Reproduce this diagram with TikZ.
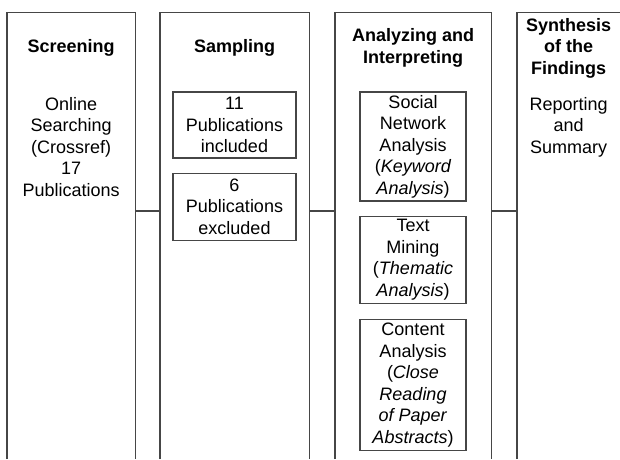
\documentclass[tikz,border=0pt]{standalone}
\usepackage{fontspec}
\setmainfont{Liberation Sans}
\usetikzlibrary{positioning}
\definecolor{rule}{RGB}{70,70,70}

\begin{document}
\begin{tikzpicture}[
  x=1pt, y=1pt,
  phase/.style={rectangle, inner sep=0pt, minimum height=446pt, anchor=south west},
  frame/.style={draw=rule, line width=1.3pt},
  head/.style={font=\fontsize{18}{21.5}\selectfont\bfseries, align=center, inner sep=0pt},
  body/.style={font=\fontsize{18}{21.5}\selectfont, align=center, inner sep=0pt, anchor=north},
  item/.style={rectangle, draw=rule, line width=1.3pt, inner sep=0pt,
               font=\fontsize{18}{21.5}\selectfont, align=center},
  node distance=14pt
]
\useasboundingbox (0,0) rectangle (620,459);

% ===== Y POSITIONS =====
\def\hy{411}  % headings
\def\by{362}  % top of plain text
\def\ly{248}  % links between phases

% ===== PHASE COLUMNS =====
\node[phase, minimum width=128pt] (screen) at (7,0) {};
\node[phase, minimum width=149pt] (sample) at (160,0) {};
\node[phase, minimum width=156pt] (analyze) at (335,0) {};
\node[phase, minimum width=103pt] (synth) at (517,0) {};

\foreach \n in {screen,sample,analyze}{
  \draw[frame] (\n.south west) |- (\n.north east) -- (\n.south east);
}
\draw[frame] (synth.south west) |- (synth.north east);

\foreach \a/\b in {screen/sample, sample/analyze, analyze/synth}{
  \draw[frame] (\a.east |- 0,\ly) -- (\b.west |- 0,\ly);
}

% ===== HEADINGS =====
\node[head] (screenhd) at (screen.north |- 0,\hy) {Screening};
\node[head] (samplehd) at (sample.north |- 0,\hy) {Sampling};
\node[head] (analyzehd) at (analyze.north |- 0,\hy) {Analyzing and\\Interpreting};
\node[head] (synthhd) at (synth.north |- 0,\hy) {Synthesis\\of the\\Findings};

% ===== CONTENTS =====
\node[body] (search) at (screen.north |- 0,\by) {Online\\Searching\\(Crossref)\\17\\Publications};
\node[body] (report) at (synth.north |- 0,\by) {Reporting\\and\\Summary};

\node[item, minimum width=123pt, minimum height=66pt] (incl) at (234.5,334) {11\\Publications\\included};
\node[item, minimum width=123pt, minimum height=67pt, below=of incl] (excl) {6\\Publications\\excluded};

\node[item, minimum width=106pt, minimum height=109pt] (sna) at (413,312.5)
  {Social\\Network\\Analysis\\(\textit{Keyword}\\\textit{Analysis})};
\node[item, minimum width=106pt, minimum height=87pt, below=of sna] (mining)
  {Text\\Mining\\(\textit{Thematic}\\\textit{Analysis})};
\node[item, minimum width=106pt, minimum height=131pt, below=15pt of mining] (content)
  {Content\\Analysis\\(\textit{Close}\\\textit{Reading}\\\textit{of Paper}\\\textit{Abstracts})};

\end{tikzpicture}
\end{document}
